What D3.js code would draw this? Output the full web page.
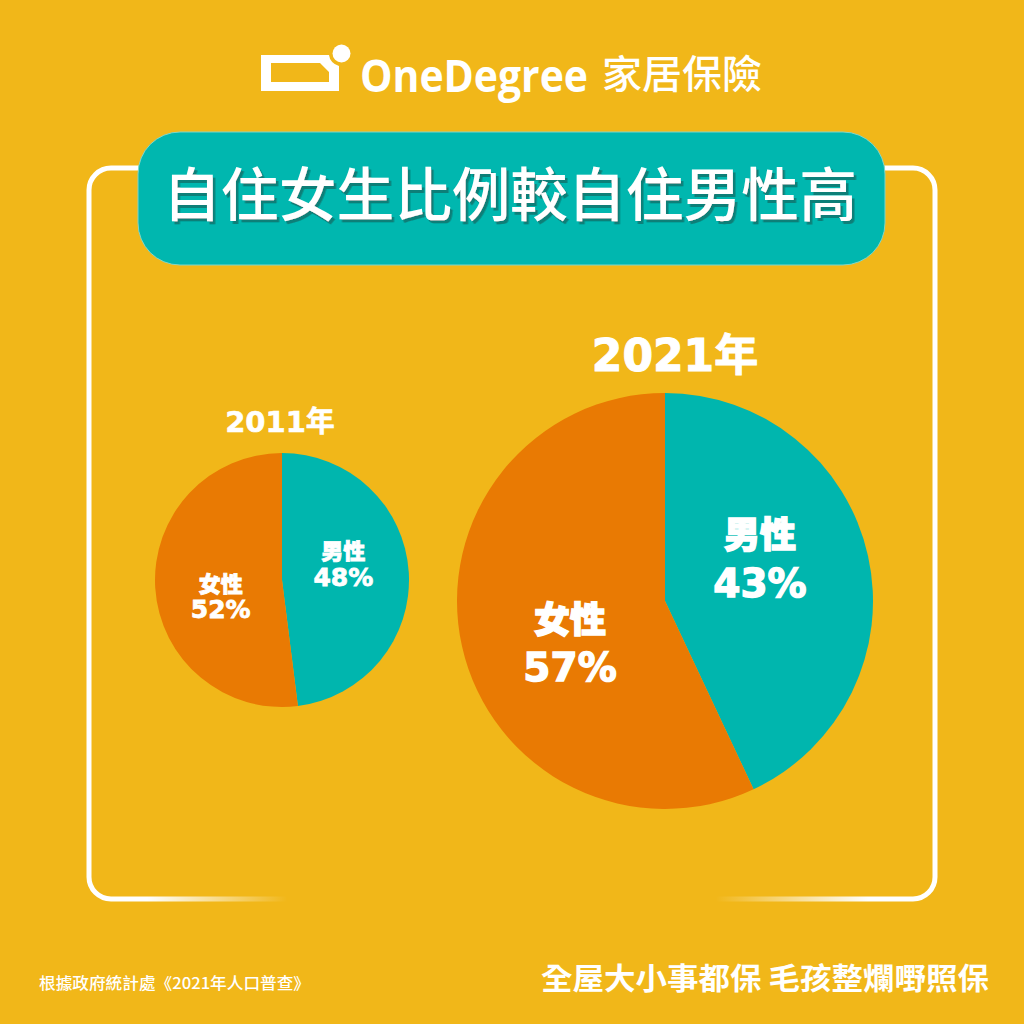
<!DOCTYPE html>
<html>
<head>
<meta charset="utf-8">
<script src="https://cdn.jsdelivr.net/npm/d3@7"></script>
<style>
  html, body { margin: 0; padding: 0; background: #F1B719; }
  svg { display: block; }
</style>
</head>
<body>
<div id="vis"></div>
<script>
const WIDTH = 1024;
const HEIGHT = 1024;

// datos
const genders = ["男性", "女性"];
const share_2011 = [48, 52];
const share_2021 = [43, 57];
const years = ["2011年", "2021年"];

const title = "自住女生比例較自住男性高";
const brand = "OneDegree";
const brand_zh = "家居保險";
const source = "根據政府統計處《2021年人口普查》";
const slogan = "全屋大小事都保 毛孩整爛嘢照保";

const colors = { "男性": "#00B6AE", "女性": "#E97A03" };
const CJK = "'Noto Sans CJK TC', 'Noto Sans CJK SC', sans-serif";
const NUM = "'DejaVu Sans', 'Noto Sans CJK TC', sans-serif";

const SVG = d3.select("#vis").append("svg")
    .attr("width", WIDTH).attr("height", HEIGHT);

SVG.append("rect").attr("width", WIDTH).attr("height", HEIGHT).attr("fill", "#F1B719");

const defs = SVG.append("defs");

// sombra del titulo
defs.append("filter").attr("id", "shadow")
    .attr("x", "-5%").attr("y", "-20%").attr("width", "110%").attr("height", "140%")
    .append("feDropShadow")
    .attr("dx", 2.5).attr("dy", 3).attr("stdDeviation", 0.6)
    .attr("flood-color", "#0a7f78").attr("flood-opacity", 1);

// marco con degradado abajo
const grad = defs.append("linearGradient")
    .attr("id", "frameGrad")
    .attr("gradientUnits", "userSpaceOnUse")
    .attr("x1", 88).attr("x2", 936).attr("y1", 0).attr("y2", 0);
[[0, 1], [0.07, 1], [0.235, 0], [0.74, 0], [0.92, 1], [1, 1]].forEach(s => {
    grad.append("stop").attr("offset", s[0]).attr("stop-color", "#fff").attr("stop-opacity", s[1]);
});

SVG.append("rect")
    .attr("x", 89).attr("y", 168)
    .attr("width", 846).attr("height", 731)
    .attr("rx", 22)
    .attr("fill", "none")
    .attr("stroke", "url(#frameGrad)")
    .attr("stroke-width", 5);

// logo
const logo = SVG.append("g").attr("fill", "#fff");
logo.append("path")
    .attr("fill-rule", "evenodd")
    .attr("d", "M261,55 H329 A12.7,12.7 0 0 0 339,66 V91 H261 Z M271,63 H320 L329,72 V82 H271 Z");
logo.append("circle").attr("cx", 341.5).attr("cy", 53.5).attr("r", 9);
logo.append("text")
    .attr("x", 360).attr("y", 92)
    .attr("textLength", 228).attr("lengthAdjust", "spacingAndGlyphs")
    .style("font-family", "'Open Sans', sans-serif")
    .style("font-weight", 700)
    .style("font-size", "44px")
    .text(brand);
logo.append("text")
    .attr("x", 602).attr("y", 88)
    .attr("textLength", 160).attr("lengthAdjust", "spacingAndGlyphs")
    .style("font-family", CJK)
    .style("font-weight", 500)
    .style("font-size", "39px")
    .text(brand_zh);

// titulo
SVG.append("rect")
    .attr("x", 138).attr("y", 132)
    .attr("width", 747).attr("height", 133)
    .attr("rx", 42)
    .attr("fill", "#00B7AF")
    .attr("stroke", "#7fd6c8")
    .attr("stroke-width", 1);
SVG.append("text")
    .attr("x", 510).attr("y", 216)
    .attr("text-anchor", "middle")
    .attr("textLength", 694).attr("lengthAdjust", "spacingAndGlyphs")
    .attr("fill", "#fff")
    .attr("filter", "url(#shadow)")
    .style("font-family", CJK).style("font-weight", 500).style("font-size", "58px")
    .text(title);

// pies
const pies = [
    { year: years[0], values: share_2011, cx: 282, cy: 580, r: 127, yearY: 432, yearX: 280, yearSize: 29, nameSize: 22, pctSize: 25, gap: 26, thick: 0.8 },
    { year: years[1], values: share_2021, cx: 665, cy: 601, r: 208, yearY: 371, yearX: 675, yearSize: 44, nameSize: 36, pctSize: 39, gap: 48, thick: 1.4 }
];

const pie = d3.pie().sort(null).value(d => d.value);
const LABEL_SHIFT = -0.2; // etiquetas un poco giradas hacia arriba

pies.forEach(p => {
    const data = genders.map((g, i) => ({ gender: g, value: p.values[i] }));
    const arcs = pie(data);
    const arc = d3.arc().innerRadius(0).outerRadius(p.r);
    const labelArc = d3.arc().innerRadius(p.r * 0.5).outerRadius(p.r * 0.5);

    const g = SVG.append("g").attr("transform", `translate(${p.cx},${p.cy})`);
    g.selectAll("path")
        .data(arcs)
        .join("path")
        .attr("d", arc)
        .attr("fill", d => colors[d.data.gender]);

    const labels = g.selectAll("g.lab")
        .data(arcs)
        .join("g")
        .attr("class", "lab")
        .attr("transform", d => {
            const a = (d.startAngle + d.endAngle) / 2 + LABEL_SHIFT;
            const c = labelArc.centroid({ startAngle: a, endAngle: a });
            return `translate(${c})`;
        });
    labels.append("text")
        .attr("text-anchor", "middle")
        .attr("y", -p.gap / 2 + p.nameSize * 0.38)
        .attr("fill", "#fff")
        .attr("stroke", "#fff").attr("stroke-width", p.thick)
        .style("font-family", CJK).style("font-weight", 900)
        .style("font-size", p.nameSize + "px")
        .text(d => d.data.gender);
    labels.append("text")
        .attr("text-anchor", "middle")
        .attr("y", p.gap / 2 + p.pctSize * 0.36)
        .attr("fill", "#fff")
        .attr("stroke", "#fff").attr("stroke-width", p.thick)
        .style("font-family", NUM).style("font-weight", 700)
        .style("font-size", p.pctSize + "px")
        .text(d => d.data.value + "%");

    SVG.append("text")
        .attr("x", p.yearX).attr("y", p.yearY)
        .attr("text-anchor", "middle")
        .attr("fill", "#fff")
        .attr("stroke", "#fff").attr("stroke-width", p.thick * 0.7)
        .style("font-family", NUM).style("font-weight", 700)
        .style("font-size", p.yearSize + "px")
        .text(p.year);
});

// pie de pagina
SVG.append("text")
    .attr("x", 39).attr("y", 989)
    .attr("textLength", 271).attr("lengthAdjust", "spacingAndGlyphs")
    .attr("fill", "#fff")
    .style("font-family", CJK).style("font-weight", 500).style("font-size", "16px")
    .text(source);
SVG.append("text")
    .attr("x", 989).attr("y", 989)
    .attr("text-anchor", "end")
    .attr("textLength", 448).attr("lengthAdjust", "spacingAndGlyphs")
    .attr("fill", "#fff")
    .style("font-family", CJK).style("font-weight", 700).style("font-size", "30px")
    .text(slogan);
</script>
</body>
</html>
